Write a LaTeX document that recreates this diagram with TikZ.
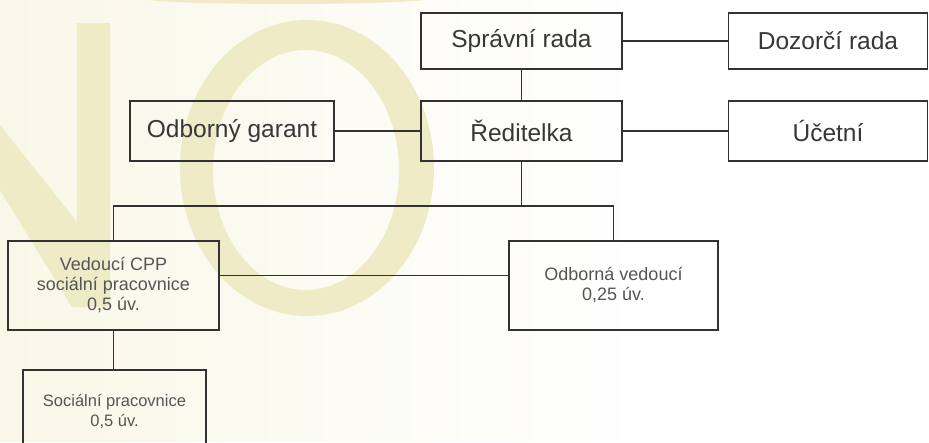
\documentclass[tikz,border=0pt]{standalone}
\usepackage{fontspec}
\setmainfont{Liberation Sans}
\usetikzlibrary{fadings}
\definecolor{linec}{RGB}{50,50,50}
\definecolor{txt}{RGB}{55,55,55}
\definecolor{txtsmall}{RGB}{85,85,85}
\definecolor{wm}{RGB}{238,235,198}
\definecolor{cream}{RGB}{249,248,232}
\begin{document}
\begin{tikzpicture}[x=1pt,y=-1pt,
  box/.style={draw=linec, line width=1.8pt, inner sep=0pt, align=center, text=txt,
    font=\fontsize{24.5}{28}\selectfont},
  smallbox/.style={box, text=txtsmall, font=\fontsize{18}{20}\selectfont},
  conn/.style={draw=linec, line width=1.8pt}]
\useasboundingbox (0,0) rectangle (929,442);
\clip (0,0) rectangle (929,442);
% background and watermark
\fill[white] (0,0) rectangle (929,442);
\fill[cream, path fading=east] (0,0) rectangle (620,442);
\fill[wm] (0,125) -- (77,222) -- (77,23) -- (110,23) -- (110,307) -- (72,307) -- (0,190) -- cycle;
\fill[wm, even odd rule] (307,168) ellipse [x radius=127, y radius=148]
                         (306,170) ellipse [x radius=93, y radius=120];
\fill[wm] (287,-2) ellipse [x radius=147, y radius=6];
% boxes
\node[box, minimum width=201pt, minimum height=56pt] (spr) at (521.5,41) {Správní rada};
\node[box, minimum width=199pt, minimum height=56pt] (doz) at (828,41) {Dozorčí rada};
\node[box, minimum width=201pt, minimum height=60pt] (red) at (521.5,131) {Ředitelka};
\node[box, minimum width=199pt, minimum height=60pt] (uce) at (828,131) {Účetní};
\node[box, minimum width=204pt, minimum height=60pt] (gar) at (232,131) {Odborný garant};
\node[smallbox, minimum width=211pt, minimum height=89pt] (ved) at (113.5,285.5)
  {Vedoucí CPP\\sociální pracovnice\\0,5 úv.};
\node[smallbox, minimum width=209pt, minimum height=89pt] (odv) at (613.5,285.5)
  {Odborná vedoucí\\0,25 úv.};
\node[smallbox, font=\fontsize{16.5}{20}\selectfont, minimum width=183pt, minimum height=82pt] (soc) at (114.5,411)
  {Sociální pracovnice\\0,5 úv.};
% connectors
\coordinate (bus) at (521.5,206);
\draw[conn] (spr) -- (doz);
\draw[conn] (spr) -- (red);
\draw[conn] (gar) -- (red);
\draw[conn] (red) -- (uce);
\draw[conn] (red.south) -- (bus);
\draw[conn] (ved.north) |- (bus) -| (odv.north);
\draw[conn] ([yshift=10pt]ved.east) -- ([yshift=10pt]odv.west);
\draw[conn] (ved.south) -- (ved.south |- soc.north);
\end{tikzpicture}
\end{document}
